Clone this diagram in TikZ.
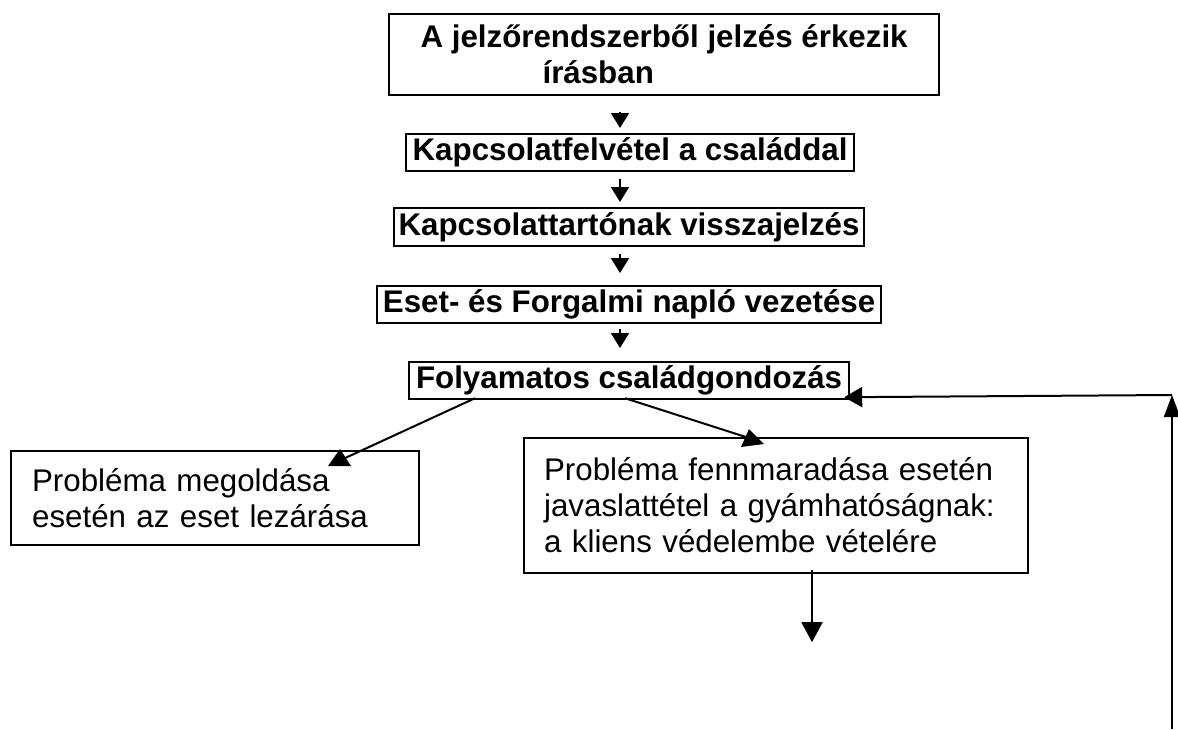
\documentclass[tikz,border=0pt]{standalone}
\usepackage{fontspec}
\setmainfont{Liberation Sans}
\usetikzlibrary{arrows.meta,calc}
\begin{document}
\begin{tikzpicture}[x=1pt,y=-1pt,
  every node/.style={font=\fontsize{31.3}{36}\selectfont},
  box/.style={draw,line width=2.2pt,inner ysep=0pt,anchor=north west},
  hbox/.style={box,inner xsep=0pt,font=\fontsize{31.3}{36}\selectfont\bfseries},
  conn/.style={line width=2pt},
  arr/.style={conn,-{Triangle[width=18pt,length=15pt]}}]
\useasboundingbox (0,0) rectangle (1178,729);
% boxes
\node[hbox,align=left,minimum width=550pt,minimum height=81pt] (b1) at (388,13)
  {A jelzőrendszerből jelzés érkezik\\\hspace*{122pt}írásban};
\node[hbox,minimum width=448pt,minimum height=37pt] (b2) at (405,133) {Kapcsolatfelvétel a családdal};
\node[hbox,minimum width=470pt,minimum height=38pt] (b3) at (393,207) {Kapcsolattartónak visszajelzés};
\node[hbox,minimum width=504pt,minimum height=37pt] (b4) at (376,285) {Eset- és Forgalmi napló vezetése};
\node[hbox,minimum width=440pt,minimum height=37pt] (b5) at (408,361) {Folyamatos családgondozás};
\node[box,inner xsep=21pt,text width=366pt,align=left,minimum height=94pt] (lb) at (10,450)
  {Probléma megoldása\\esetén az eset lezárása};
\node[box,inner xsep=20pt,text width=464pt,align=left,minimum height=135pt] (rb) at (523,437)
  {Probléma fennmaradása esetén\\javaslattétel a gyámhatóságnak:\\a kliens védelembe vételére};
% vertical arrows
\coordinate (ax) at (620,0);
\draw[arr] ($(b1.south -| ax)+(0,16)$) -- ($(b2.north -| ax)+(0,-5)$);
\draw[arr] ($(b2.south -| ax)+(0,7)$) -- ($(b3.north -| ax)+(0,-5)$);
\draw[arr] ($(b3.south -| ax)+(0,7)$) -- ($(b4.north -| ax)+(0,-12)$);
\draw[arr] ($(b4.south -| ax)+(0,5)$) -- ($(b5.north -| ax)+(0,-13)$);
% diagonal arrows
\coordinate (lend) at (343,459);
\coordinate (rend) at (752,439);
\draw[conn] ($(b5.south west)+(67,-2)$) -- (lend);
\fill (340,449) -- (351,466) -- (328,466) -- cycle;
\draw[conn] ($(b5.south west)+(217,-2)$) -- (rend);
\fill (749,429) -- (764,444) -- (741,447) -- cycle;
% down arrow from right box
\coordinate (dx) at (812,0);
\draw[conn,-{Triangle[width=21pt,length=20pt]}] ($(rb.south -| dx)+(0,-4)$) -- ($(rb.south -| dx)+(0,68)$);
% feedback loop
\coordinate (fb0) at (1172,729);
\coordinate (fb1) at (1172,395);
\draw[conn,-{Triangle[width=16pt,length=22pt]}] (fb0) -- (fb1);
\draw[conn,-{Triangle[width=20pt,length=18pt]}] (fb1) -- ($(b5.south east)+(-6,-3)$);
\end{tikzpicture}
\end{document}
